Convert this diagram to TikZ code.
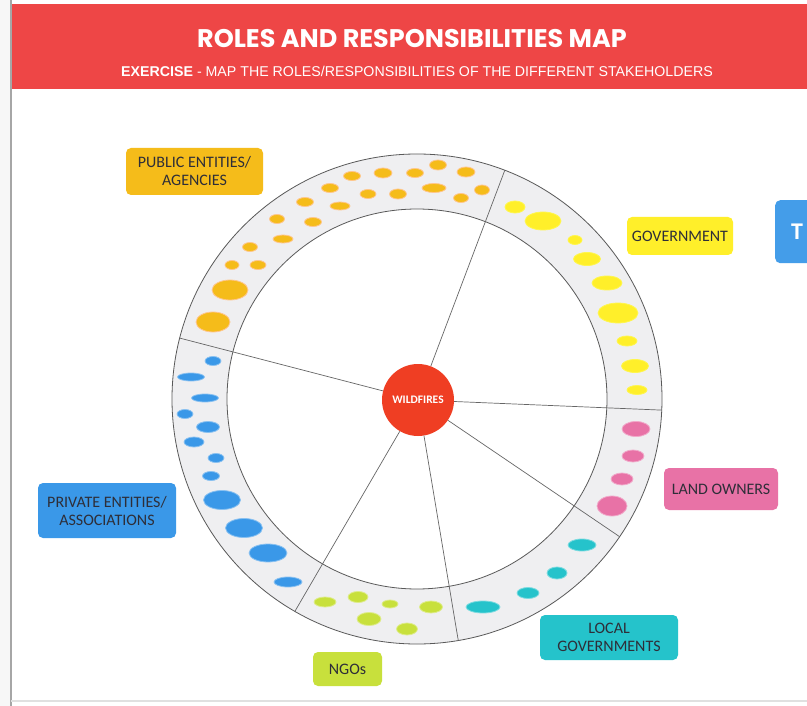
\documentclass[tikz,border=0pt]{standalone}
\usepackage{fontspec}
\setmainfont{Carlito}
\newfontfamily\titlefont{Poppins}
\newfontfamily\subfont{Liberation Sans}
\usetikzlibrary{shapes.geometric,calc}

\definecolor{headred}{HTML}{EE4646}
\definecolor{firered}{HTML}{EF3E23}
\definecolor{ringgray}{HTML}{EFEFF1}
\definecolor{pubyellow}{HTML}{F5BC1A}
\definecolor{govyellow}{HTML}{FFEF2A}
\definecolor{landpink}{HTML}{E872A6}
\definecolor{localteal}{HTML}{25C3CB}
\definecolor{ngolime}{HTML}{C8E03C}
\definecolor{privblue}{HTML}{3A98E8}
\definecolor{textdark}{HTML}{2E2E38}

\tikzset{
  group/.style = {rounded corners=5pt, text=textdark, align=center, inner sep=0pt,
                  font=\fontsize{16}{18}\selectfont},
  dot/.style = {ellipse, inner sep=0pt, line width=0.8pt},
  divider/.style = {draw=black!60, line width=0.7pt}
}

\begin{document}
\begin{tikzpicture}[x=1pt, y=-1pt]
  \useasboundingbox (0,0) rectangle (807,706);
  \clip (0,0) rectangle (807,706);
  \fill[white] (0,0) rectangle (807,706);
  \fill[black!3] (0,0) rectangle (11,706);
  \draw[black!35, line width=1.2pt] (11,0) -- (11,706);
  \draw[black!12, line width=2pt] (11,701) -- (807,701);

  % header
  \fill[headred] (12,4) rectangle (807,89);
  \node[text=white, font=\titlefont\bfseries\fontsize{25.5}{28}\selectfont] (title) at (412,39)
    {ROLES AND RESPONSIBILITIES MAP};
  \node[text=white, font=\subfont\fontsize{14.2}{16}\selectfont] (subtitle) at (417,71)
    {\textbf{EXERCISE} - MAP THE ROLES/RESPONSIBILITIES OF THE DIFFERENT STAKEHOLDERS};

  % ring
  \coordinate (c) at (417,399);
  \fill[ringgray] (c) circle (245pt);
  \fill[white] (c) circle (190pt);
  \draw[black!65, line width=0.8pt] (c) circle (245pt);
  \draw[black!65, line width=0.8pt] (c) circle (190pt);

  \node[circle, fill=firered, minimum size=72pt, inner sep=0pt, text=white,
        font=\bfseries\fontsize{11.5}{12}\selectfont] (fire) at (418,400) {WILDFIRES};

  \foreach \a [count=\i] in {69, -2.6, -34.2, -80.3, 240.1, 165.6}
    \coordinate (d\i) at ($(c)+(\a:245pt)$);
  \foreach \i in {1,...,6}
    \draw[divider] (fire) -- (d\i);

  % public entities
  \foreach \x/\y/\w/\h [count=\i] in {438/165/17/10, 352/176/17/9, 383/173/18/10, 415/173/17/9,
      466/172/18/10, 330/188/17/9, 368/194/16/9, 398/194/17/10, 434/188/24/9, 482/190/15/10,
      461/198/15/9, 305/202/17/9, 340/206/20/8, 277/219/15/9, 313/222/17/9, 283/239/20/8,
      250/247/15/9, 232/265/14/9, 258/265/16/9, 230/290/36/20, 213/322/34/20}
    \node[dot, fill=pubyellow, draw=orange!45, minimum width=\w pt, minimum height=\h pt]
      (pub\i) at (\x,\y) {};

  % government
  \foreach \x/\y/\w/\h [count=\i] in {515/207/20/12, 543/221/36/18, 575/240/14/9, 587/259/27/13,
      607/283/30/14, 618/313/40/20, 627/341/20/10, 635/366/27/13, 637/390/20/9}
    \node[dot, fill=govyellow, draw=yellow!70!white, minimum width=\w pt, minimum height=\h pt]
      (gov\i) at (\x,\y) {};

  % land owners
  \foreach \x/\y/\w/\h [count=\i] in {636/429/28/15, 633/456/22/12, 622/479/22/12, 612/506/30/20}
    \node[dot, fill=landpink, draw=landpink!60, minimum width=\w pt, minimum height=\h pt]
      (land\i) at (\x,\y) {};

  % local governments
  \foreach \x/\y/\w/\h [count=\i] in {582/545/28/12, 557/573/20/12, 528/593/22/11, 483/607/34/12}
    \node[dot, fill=localteal, draw=localteal!60, minimum width=\w pt, minimum height=\h pt]
      (loc\i) at (\x,\y) {};

  % ngos
  \foreach \x/\y/\w/\h [count=\i] in {325/602/22/10, 358/597/20/11, 390/604/16/8, 431/607/23/12,
      369/619/24/13, 407/629/21/12}
    \node[dot, fill=ngolime, draw=ngolime!60, minimum width=\w pt, minimum height=\h pt]
      (ngo\i) at (\x,\y) {};

  % private entities
  \foreach \x/\y/\w/\h [count=\i] in {213/361/16/9, 191/377/27/8, 205/398/27/8, 185/414/16/9,
      208/427/23/11, 194/442/20/10, 216/458/16/9, 211/476/17/9, 222/500/37/19, 244/528/37/19,
      268/553/38/18, 288/582/28/10}
    \node[dot, fill=privblue, draw=privblue!60, minimum width=\w pt, minimum height=\h pt]
      (priv\i) at (\x,\y) {};

  % stakeholder groups
  \node[group, fill=pubyellow, minimum width=137pt, minimum height=47pt] (public) at (194.5,171.5)
    {PUBLIC ENTITIES/\\AGENCIES};
  \node[group, fill=govyellow, minimum width=106pt, minimum height=38pt] (government) at (680,236)
    {GOVERNMENT};
  \node[group, fill=landpink, minimum width=114pt, minimum height=42pt] (landowners) at (721,489)
    {LAND OWNERS};
  \node[group, fill=localteal, minimum width=138pt, minimum height=45pt] (localgov) at (609,637.5)
    {LOCAL\\GOVERNMENTS};
  \node[group, fill=ngolime, minimum width=69pt, minimum height=34pt] (ngos) at (347.5,669)
    {NGOs};
  \node[group, fill=privblue, minimum width=138pt, minimum height=55pt] (private) at (107,510.5)
    {PRIVATE ENTITIES/\\ASSOCIATIONS};

  \node[group, fill=privblue!95!white, minimum width=70pt, minimum height=63pt, text=white,
        font=\bfseries\fontsize{24}{26}\selectfont, anchor=north west, text width=60pt, align=left,
        inner xsep=16pt] (sidebox) at (775,200) {T};
\end{tikzpicture}
\end{document}
